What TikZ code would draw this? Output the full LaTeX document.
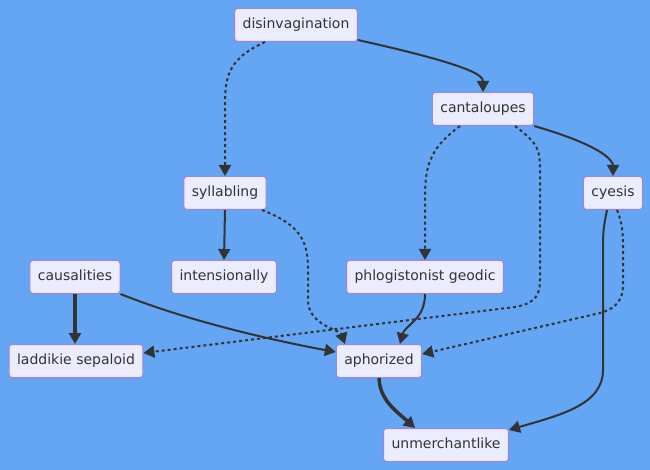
\documentclass[tikz,border=0pt]{standalone}
\usepackage{fontspec}
\setmainfont{DejaVu Sans}
\usetikzlibrary{arrows.meta}
\definecolor{bg}{RGB}{100,165,244}
\definecolor{boxfill}{RGB}{236,236,255}
\definecolor{boxline}{RGB}{160,130,225}
\definecolor{ink}{RGB}{51,51,51}
\tikzset{
  box/.style={draw=boxline, fill=boxfill, line width=1pt, rounded corners=3pt,
    minimum height=33pt, inner xsep=8pt, inner ysep=0pt, text=ink,
    font=\fontsize{14}{16}\selectfont, text height=10pt, text depth=3pt},
  link/.style={draw=ink, line width=2pt, -{Triangle[length=11pt,width=12pt]}},
  dotlink/.style={link, dash pattern=on 3pt off 3pt},
  thicklink/.style={link, line width=3.5pt}
}
\begin{document}
\begin{tikzpicture}[x=1pt,y=-1pt]
    \fill [bg] (0,0) rectangle (650,470);
    \useasboundingbox (0,0) rectangle (650,470);
    \node [box] (dis) at (296,25) {disinvagination};
    \node [box] (can) at (483,109) {cantaloupes};
    \node [box] (syl) at (225,193) {syllabling};
    \node [box] (cye) at (613,193) {cyesis};
    \node [box] (cau) at (75,277) {causalities};
    \node [box] (int) at (224,277) {intensionally};
    \node [box] (phl) at (425,277) {phlogistonist geodic};
    \node [box] (lad) at (76,361) {laddikie sepaloid};
    \node [box] (aph) at (379,361) {aphorized};
    \node [box] (unm) at (446,445) {unmerchantlike};
    % edges
    \draw [link] ([yshift=2pt]dis.south east) .. controls (470,65) and (483,75) .. (can.north);
    \draw [dotlink] ([xshift=-31pt]dis.south) .. controls (225,60) and (225,80) .. (225,110) -- (syl.north);
    \draw [dotlink] ([xshift=-23pt]can.south) .. controls (427,150) and (425,170) .. (425,200) -- (phl.north);
    \draw [link] (can.south east) .. controls (600,145) and (613,160) .. (cye.north);
    \draw [dotlink] ([xshift=32pt]can.south) .. controls (540,145) and (540,150) .. (540,175) -- (540,280)
        .. controls (540,300) and (530,304) .. (515,307) -- ([yshift=8pt]lad.east);
    \draw [link] (syl.south) -- (int.north);
    \draw [dotlink] ([xshift=37pt]syl.south) .. controls (300,225) and (308,240) .. (308,270) -- (308,300)
        .. controls (308,325) and (340,330) .. ([xshift=-34pt]aph.north);
    \draw [thicklink] (cau.south) -- (cau.south |- lad.north);
    \draw [link] (cau.south east) .. controls (180,318) and (260,338) .. ([yshift=9pt]aph.west);
    \draw [link] (phl.south) .. controls (425,320) and (405,325) .. ([xshift=21pt]aph.north);
    \draw [dotlink] ([xshift=4pt]cye.south) .. controls (623,225) and (623,235) .. (623,250) -- (623,285)
        .. controls (623,305) and (610,310) .. (600,313) -- ([yshift=7pt]aph.east);
    \draw [link] ([xshift=-6pt]cye.south) .. controls (603,230) .. (603,260) -- (603,370)
        .. controls (603,405) and (560,415) .. ([yshift=-2pt]unm.north east);
    \draw [thicklink] (aph.south) .. controls (380,400) and (395,410) .. ([xshift=-31pt]unm.north);
\end{tikzpicture}
\end{document}
